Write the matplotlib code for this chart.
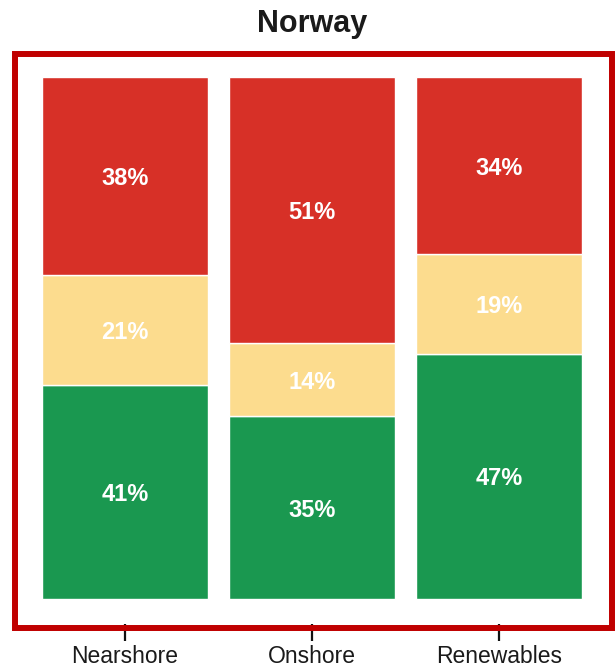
import matplotlib
matplotlib.use("Agg")
import matplotlib.pyplot as plt
from matplotlib.patches import Rectangle
import numpy as np

plt.rcParams['font.family'] = ['Liberation Sans', 'DejaVu Sans']

categories = ["Nearshore", "Onshore", "Renewables"]
green_vals = [41, 35, 47]
yellow_vals = [21, 14, 19]
red_vals = [38, 51, 34]
title = "Norway"

W, H = 616, 668
fig = plt.figure(figsize=(W / 100, H / 100), dpi=100)
fig.patch.set_facecolor("white")

ax_l, ax_r, ax_t, ax_b = 17, 609, 57, 624
ax = fig.add_axes([ax_l / W, (H - ax_b) / H, (ax_r - ax_l) / W, (ax_b - ax_t) / H])

x = np.arange(len(categories))
width = 0.888
c_green, c_yellow, c_red = "#1A9850", "#FCDC8E", "#D73027"

g = np.array(green_vals, dtype=float)
yv = np.array(yellow_vals, dtype=float)
r = np.array(red_vals, dtype=float)

ax.bar(x, g, width, color=c_green, edgecolor="white", linewidth=1)
ax.bar(x, yv, width, bottom=g, color=c_yellow, edgecolor="white", linewidth=1)
ax.bar(x, r, width, bottom=g + yv, color=c_red, edgecolor="white", linewidth=1)

for i in range(len(categories)):
    for val, bot in ((g[i], 0), (yv[i], g[i]), (r[i], g[i] + yv[i])):
        ax.text(x[i], bot + val / 2, f"{int(val)}%", ha="center", va="center_baseline",
                color="white", fontsize=17, fontweight="bold")

ax.set_xlim(-0.578, 2.588)
ax.set_ylim(-4.79, 103.83)
ax.set_xticks(x)
ax.set_xticklabels(categories, fontsize=16.5, color="#1a1a1a")
ax.tick_params(axis="x", length=12, width=1.6, color="#111111", pad=3, direction="out")
ax.set_yticks([])
for s in ax.spines.values():
    s.set_visible(False)

# red frame
fig.add_artist(Rectangle((14.5 / W, (H - 627.5) / H), (611.5 - 14.5) / W, (627.5 - 54) / H,
                         transform=fig.transFigure, fill=False, edgecolor="#C00000",
                         linewidth=4.3, zorder=10))

fig.text(312.5 / W, (H - 32) / H, title, ha="center", va="baseline",
         fontsize=22, fontweight="bold", color="#1a1a1a")

fig.savefig("out.png", dpi=100)
